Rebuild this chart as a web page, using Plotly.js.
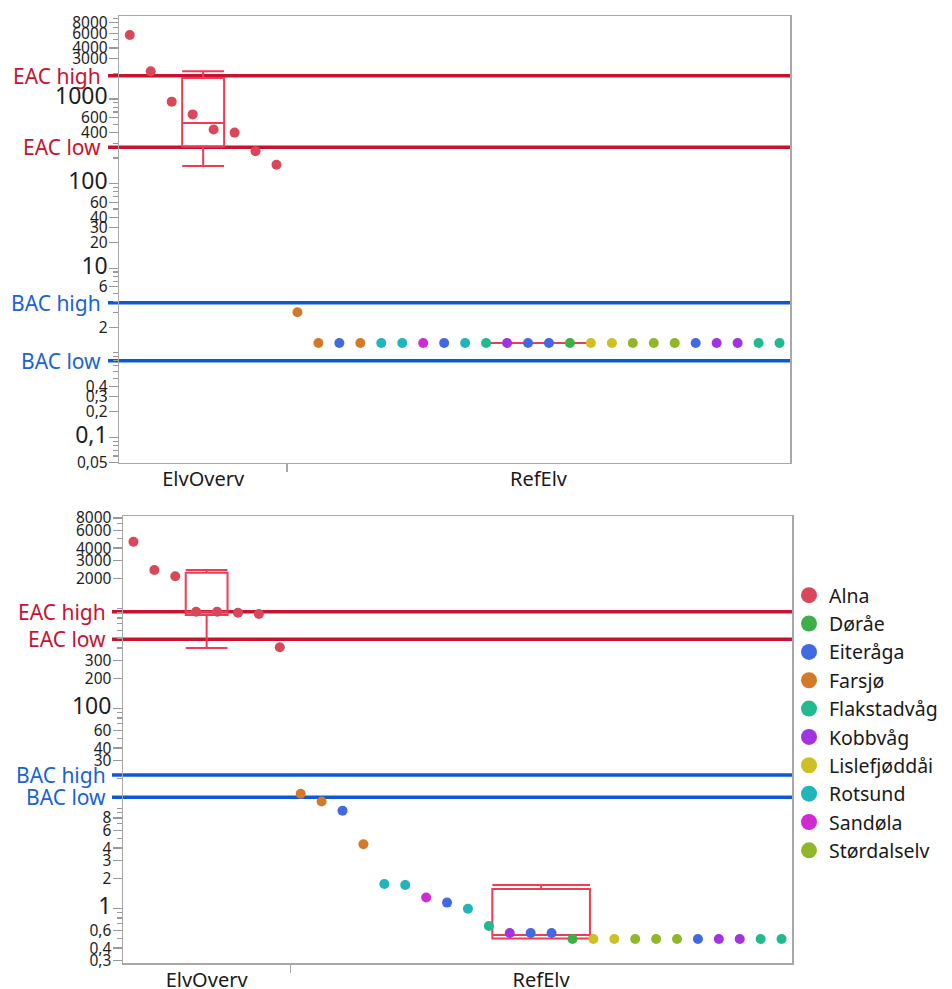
<!DOCTYPE html>
<html>
<head>
<meta charset="utf-8">
<script src="https://cdn.plot.ly/plotly-3.0.1.min.js"></script>
<style>
html,body{margin:0;padding:0;background:#fff;}
#chart{width:952px;height:989px;}
</style>
</head>
<body>
<div id="chart"></div>
<script>
// ---------------- DATA ----------------
const groups = ['ElvOverv', 'RefElv'];
const rivers = ['Alna','Døråe','Eiteråga','Farsjø','Flakstadvåg','Kobbvåg','Lislefjøddåi','Rotsund','Sandøla','Størdalselv'];
const riverColors = ['#D8475A','#3DAF48','#4169E1','#D27A2A','#22B98E','#A233E0','#CDC024','#21B4B8','#D02BD2','#90B62A'];

// point order (left to right), same in both panels
const pointGroup = ['ElvOverv','ElvOverv','ElvOverv','ElvOverv','ElvOverv','ElvOverv','ElvOverv','ElvOverv',
  'RefElv','RefElv','RefElv','RefElv','RefElv','RefElv','RefElv','RefElv','RefElv','RefElv','RefElv','RefElv',
  'RefElv','RefElv','RefElv','RefElv','RefElv','RefElv','RefElv','RefElv','RefElv','RefElv','RefElv','RefElv'];
const pointRiver = ['Alna','Alna','Alna','Alna','Alna','Alna','Alna','Alna',
  'Farsjø','Farsjø','Eiteråga','Farsjø','Rotsund','Rotsund','Sandøla','Eiteråga','Rotsund','Flakstadvåg',
  'Kobbvåg','Eiteråga','Eiteråga','Døråe','Lislefjøddåi','Lislefjøddåi','Størdalselv','Størdalselv',
  'Størdalselv','Eiteråga','Kobbvåg','Kobbvåg','Flakstadvåg','Flakstadvåg'];

const topValues = [5700, 2120, 930, 657, 435, 400, 241, 167,
  3.0, 1.3, 1.3, 1.3, 1.3, 1.3, 1.3, 1.3, 1.3, 1.3, 1.3, 1.3,
  1.3, 1.3, 1.3, 1.3, 1.3, 1.3, 1.3, 1.3, 1.3, 1.3, 1.3, 1.3];
const bottomValues = [4630, 2415, 2090, 925, 925, 904, 877, 408,
  14.0, 11.7, 9.46, 4.37, 1.75, 1.71, 1.28, 1.14, 0.99, 0.665, 0.566, 0.566,
  0.566, 0.493, 0.493, 0.493, 0.493, 0.493, 0.493, 0.493, 0.493, 0.493, 0.493, 0.493];

// box summaries per group: [ElvOverv, RefElv]
const topBoxLower  = [161, 1.3];
const topBoxQ1     = [274, 1.3];
const topBoxMedian = [521, 1.3];
const topBoxQ3     = [1766, 1.3];
const topBoxUpper  = [2120, 1.3];
const bottomBoxLower  = [400, 0.5];
const bottomBoxQ1     = [857, 0.5];
const bottomBoxMedian = [925, 0.54];
const bottomBoxQ3     = [2270, 1.56];
const bottomBoxUpper  = [2415, 1.71];

// threshold lines
const thresholdNames = ['EAC high', 'EAC low', 'BAC high', 'BAC low'];
const topThresholds = [1885, 269, 3.9, 0.8];
const bottomThresholds = [925, 490, 21.5, 12.9];

// y tick labels
const topTickVals = [8000,6000,4000,3000,1000,600,400,100,60,40,30,20,10,6,2,0.4,0.3,0.2,0.1,0.05];
const topTickText = ['8000','6000','4000','3000','1000','600','400','100','60','40','30','20','10','6','2','0,4','0,3','0,2','0,1','0,05'];
const topBigTicks = ['1000','100','10','0,1'];
const bottomTickVals = [8000,6000,4000,3000,2000,300,200,100,60,40,30,8,6,4,3,2,1,0.6,0.4,0.3];
const bottomTickText = ['8000','6000','4000','3000','2000','300','200','100','60','40','30','8','6','4','3','2','1','0,6','0,4','0,3'];
const bottomBigTicks = ['100','1'];

// ---------------- BUILD ----------------
const FONT = 'Noto Sans, Open Sans, DejaVu Sans, sans-serif';
const EAC_COL = '#C8132F', BAC_COL = '#0A5AD8';
const labelColors = ['#C8132F', '#C8132F', '#1A63D6', '#1A63D6'];
const lineColors = [EAC_COL, EAC_COL, BAC_COL, BAC_COL];
const BOX_COL = '#F03C52';

const nG0 = pointGroup.filter(g => g === groups[0]).length;
const nAll = pointGroup.length;
const groupCenters = [nG0 / 2, nG0 + (nAll - nG0) / 2];
const boxWidths = [2, 4.67];

function styled(text, big) {
  return big.includes(text) ? '<span style="font-size:23px">' + text + '</span>' : text;
}
function minorVals(lo, hi, exclude) {
  const out = [];
  for (let e = -3; e <= 4; e++) for (let k = 1; k <= 9; k++) {
    const v = +(k * Math.pow(10, e)).toPrecision(3);
    if (v >= lo && v <= hi && !exclude.includes(v)) out.push(v);
  }
  return out;
}

const traces = [];
// legend entries
rivers.forEach((r, i) => {
  traces.push({type:'scatter', mode:'markers', x:[null], y:[null], name:r, legendgroup:r,
    marker:{color:riverColors[i], size:17}, showlegend:true, hoverinfo:'skip', xaxis:'x2', yaxis:'y2'});
});
function addPanel(values, xa, ya) {
  rivers.forEach((r, ri) => {
    const xs = [], ys = [];
    pointRiver.forEach((pr, i) => { if (pr === r) { xs.push(i + 0.5); ys.push(values[i]); } });
    if (!xs.length) return;
    traces.push({type:'scatter', mode:'markers', x:xs, y:ys, name:r, legendgroup:r, showlegend:false,
      marker:{color:riverColors[ri], size:10}, xaxis:xa, yaxis:ya, cliponaxis:false});
  });
}
function addBoxesSep(lower, q1, med, q3, upper, xa, ya) {
  groups.forEach((g, i) => {
    traces.push({type:'box', x:[groupCenters[i]], lowerfence:[lower[i]], q1:[q1[i]], median:[med[i]],
      q3:[q3[i]], upperfence:[upper[i]], width:boxWidths[i], boxpoints:false, whiskerwidth:1,
      showlegend:false, line:{color:BOX_COL, width:2}, fillcolor:'rgba(0,0,0,0)', xaxis:xa, yaxis:ya,
      hoverinfo:'skip'});
  });
}
addBoxesSep(topBoxLower, topBoxQ1, topBoxMedian, topBoxQ3, topBoxUpper, 'x', 'y');
addBoxesSep(bottomBoxLower, bottomBoxQ1, bottomBoxMedian, bottomBoxQ3, bottomBoxUpper, 'x2', 'y2');
addPanel(topValues, 'x', 'y');
addPanel(bottomValues, 'x2', 'y2');

const shapes = [], annotations = [];
function addThresholds(vals, ya, x0, x1, labelX) {
  vals.forEach((v, i) => {
    shapes.push({type:'line', xref:'paper', yref:ya, x0:x0, x1:x1, y0:v, y1:v,
      line:{color:lineColors[i], width:3.5}, layer:'below'});
    annotations.push({xref:'paper', yref:ya, x:labelX, y:Math.log10(v), xanchor:'right', yanchor:'middle',
      text:thresholdNames[i], showarrow:false, font:{family:FONT, size:21, color:labelColors[i]}});
  });
}
addThresholds(topThresholds, 'y', 108/952, 790/952, 103/952);
addThresholds(bottomThresholds, 'y2', 112/952, 792/952, 108/952);

const axisLine = {showline:true, linecolor:'#A8A8A8', linewidth:1.5, mirror:true, zeroline:false, showgrid:false};
function xAxis(domain, anchor) {
  return Object.assign({}, axisLine, {domain:domain, anchor:anchor, range:[0, nAll],
    tickmode:'array', tickvals:groupCenters, ticktext:groups, ticks:'', ticklen:0,
    tickfont:{family:FONT, size:20, color:'#1a1a1a'}, ticklabelstandoff:-2,
    minor:{tickmode:'array', tickvals:[nG0], ticks:'outside', ticklen:8, tickcolor:'#A8A8A8', tickwidth:1.5}});
}
function yAxis(domain, anchor, range, tv, tt, big) {
  return Object.assign({}, axisLine, {domain:domain, anchor:anchor, type:'log', range:range,
    tickmode:'array', tickvals:tv, ticktext:tt.map(t => styled(t, big)), ticks:'outside', ticklen:9,
    tickcolor:'#999', tickwidth:1.2, tickfont:{family:FONT, size:15.5, color:'#1e1e1e'}, ticklabelstandoff:-2,
    minor:{tickmode:'array', tickvals:minorVals(Math.pow(10, range[0]), Math.pow(10, range[1]), tv),
      ticks:'outside', ticklen:5, tickcolor:'#999', tickwidth:1.2}});
}

const layout = {
  width:952, height:989, margin:{l:0, r:0, t:0, b:0}, paper_bgcolor:'#fff', plot_bgcolor:'#fff',
  font:{family:FONT, color:'#222'},
  showlegend:true,
  legend:{x:789/952, xanchor:'left', y:1 - 576/989, yanchor:'top', font:{family:FONT, size:19.5, color:'#1a1a1a'},
    tracegroupgap:0, itemwidth:30, bgcolor:'rgba(0,0,0,0)'},
  xaxis: xAxis([119.3/952, 790/952], 'y'),
  yaxis: yAxis([1 - 462.7/989, 1 - 16/989], 'x', [-1.301, 3.981], topTickVals, topTickText, topBigTicks),
  xaxis2: xAxis([123/952, 792/952], 'y2'),
  yaxis2: yAxis([1 - 963/989, 1 - 516/989], 'x2', [-0.547, 3.923], bottomTickVals, bottomTickText, bottomBigTicks),
  shapes:shapes, annotations:annotations, hovermode:false
};
Plotly.newPlot('chart', traces, layout, {displayModeBar:false, staticPlot:true});
</script>
</body>
</html>
